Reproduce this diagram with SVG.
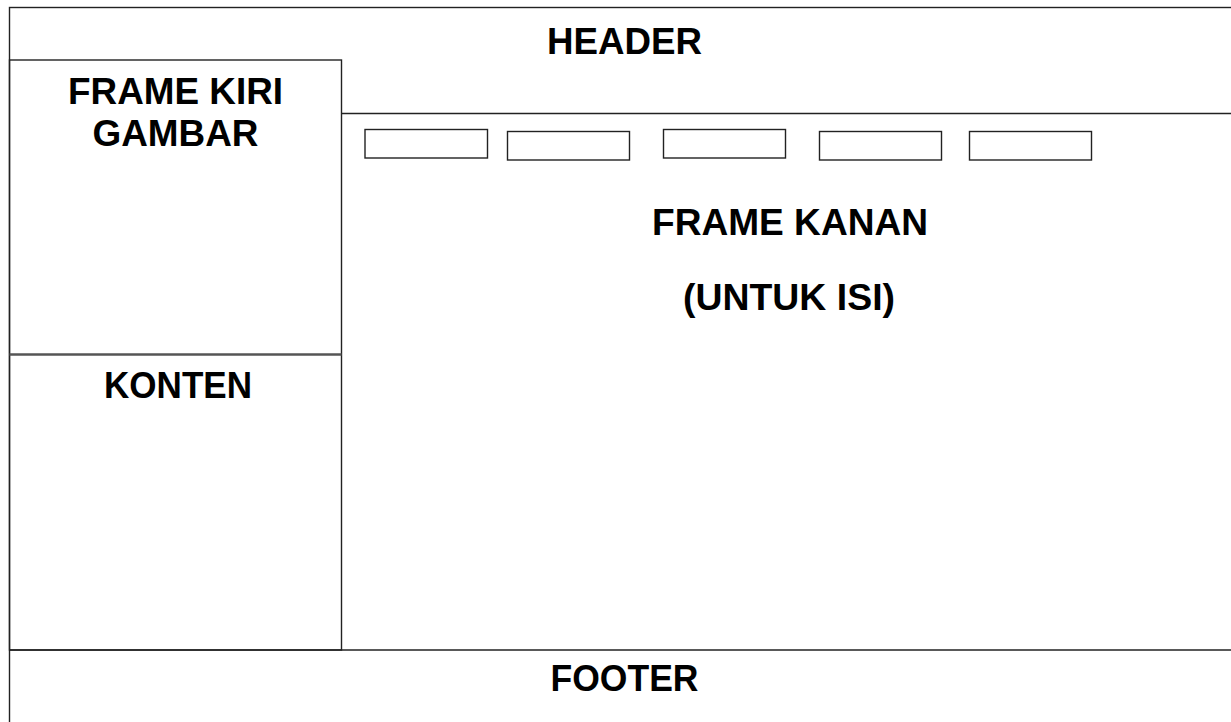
<svg xmlns="http://www.w3.org/2000/svg" width="1231" height="722" viewBox="0 0 1231 722">
<style>
.ln{fill:none;stroke:#222;stroke-width:1.4}
.bx{fill:#fff;stroke:#222;stroke-width:1.4}
.t{font-family:"Liberation Sans",Arial,sans-serif;font-weight:bold;font-size:37px;fill:#000;text-anchor:middle}
</style>
<rect x="0" y="0" width="1231" height="722" fill="#fff"/>
<g id="page">
<rect class="ln" x="9.5" y="7.5" width="1240" height="740"/>
</g>
<g id="connectors">
<line class="ln" x1="341.5" y1="113.5" x2="1231" y2="113.5"/>
<line class="ln" x1="9.5" y1="650" x2="1231" y2="650" style="stroke-width:1.7"/>
</g>
<g id="header">
<text class="t" x="624.5" y="54" textLength="155" lengthAdjust="spacingAndGlyphs">HEADER</text>
</g>
<g id="frame-kiri">
<rect class="ln" x="9.5" y="60" width="332" height="590"/>
<text class="t" x="175.5" y="104" textLength="215" lengthAdjust="spacingAndGlyphs">FRAME KIRI</text>
<text class="t" x="175.5" y="146" textLength="166" lengthAdjust="spacingAndGlyphs">GAMBAR</text>
</g>
<g id="konten">
<line x1="9.5" y1="354.5" x2="341.5" y2="354.5" stroke="#555" stroke-width="2.5"/>
<text class="t" x="178" y="398" textLength="148" lengthAdjust="spacingAndGlyphs">KONTEN</text>
</g>
<g id="frame-kanan">
<text class="t" x="790" y="235" textLength="276" lengthAdjust="spacingAndGlyphs">FRAME KANAN</text>
<text class="t" x="789" y="310" textLength="212" lengthAdjust="spacingAndGlyphs">(UNTUK ISI)</text>
</g>
<g id="menu-1"><rect class="bx" x="365" y="129.5" width="122.5" height="28.5"/></g>
<g id="menu-2"><rect class="bx" x="507.5" y="131.5" width="122" height="28.5"/></g>
<g id="menu-3"><rect class="bx" x="663.5" y="129.5" width="122" height="28.5"/></g>
<g id="menu-4"><rect class="bx" x="819.5" y="131.5" width="122" height="28.5"/></g>
<g id="menu-5"><rect class="bx" x="969.5" y="131.5" width="122" height="28.5"/></g>
<g id="footer">
<text class="t" x="624.5" y="691" textLength="148" lengthAdjust="spacingAndGlyphs">FOOTER</text>
</g>
</svg>
